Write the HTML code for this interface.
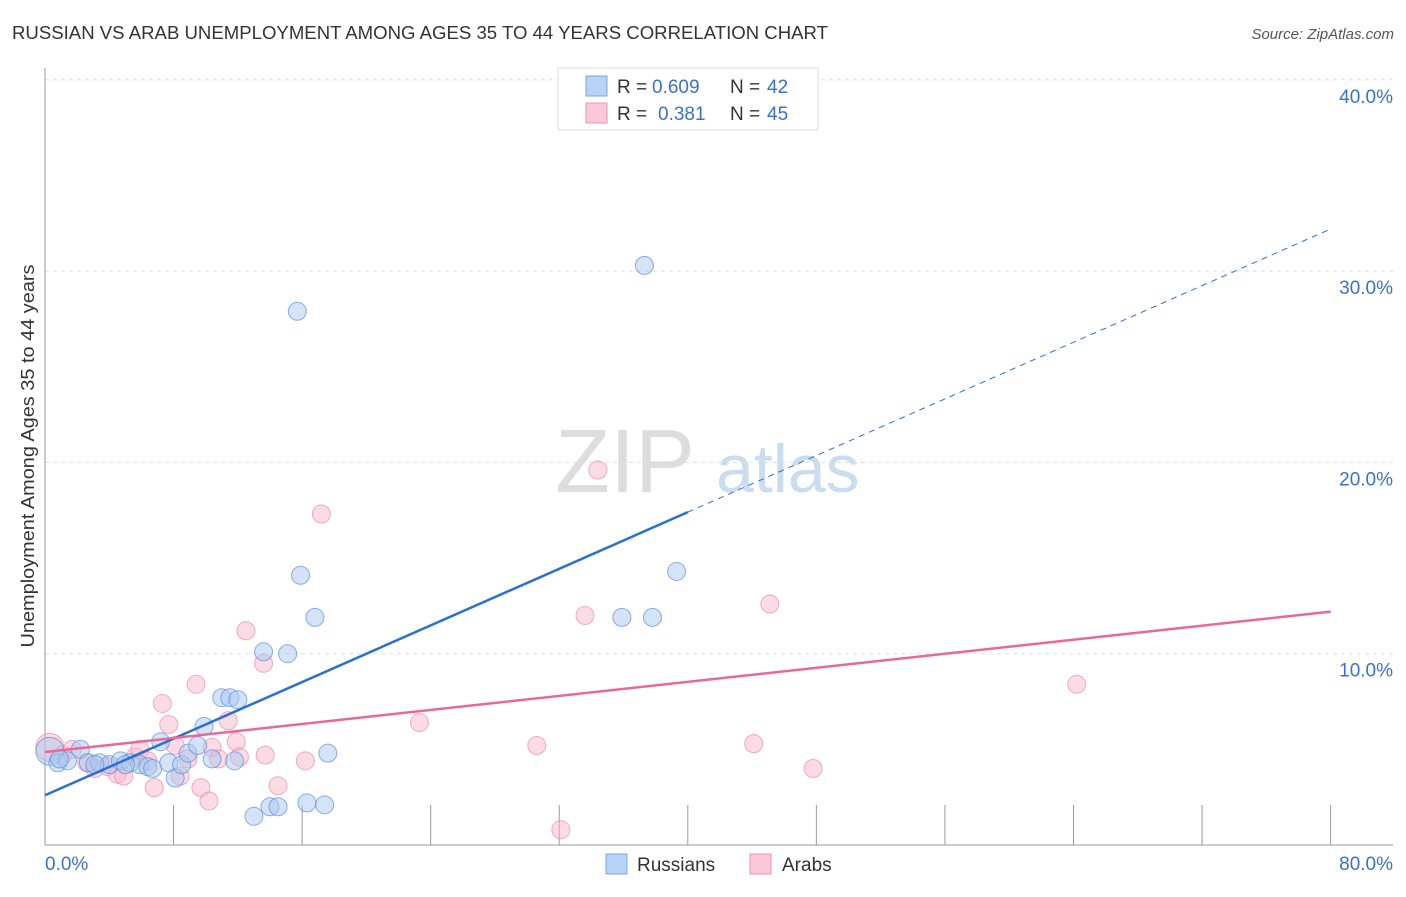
<!DOCTYPE html>
<html><head><meta charset="utf-8"><style>
body{margin:0;background:#fff;font-family:"Liberation Sans",sans-serif;}
svg text{font-family:"Liberation Sans",sans-serif;}
</style></head><body>
<svg id="c" width="1406" height="892" xmlns="http://www.w3.org/2000/svg">
<text x="12" y="39" font-size="18" fill="#333" textLength="816" lengthAdjust="spacingAndGlyphs">RUSSIAN VS ARAB UNEMPLOYMENT AMONG AGES 35 TO 44 YEARS CORRELATION CHART</text>
<text x="1394" y="39" font-size="15" fill="#555" font-style="italic" text-anchor="end">Source: ZipAtlas.com</text>
<text x="555" y="492" font-size="90" fill="#ddd" font-family="Liberation Serif">ZIP</text>
<text x="716" y="492" font-size="68" fill="#c9dcf0">atlas</text>
<text transform="translate(34,456) rotate(-90)" font-size="18" fill="#333" text-anchor="middle" textLength="383" lengthAdjust="spacingAndGlyphs">Unemployment Among Ages 35 to 44 years</text>
<g id="grid"></g><g id="marks"></g><g id="lines"></g>
<g>
<rect x="558" y="68" width="260" height="62" fill="#fff" stroke="#ddd"/>
<rect x="586" y="76" width="21" height="20" fill="#b8d2f5" stroke="#7aa7e0"/>
<rect x="586" y="103" width="21" height="20" fill="#fbc8d8" stroke="#eb93b0"/>
<text x="617" y="93" font-size="19" fill="#333">R =</text>
<text x="652" y="93" font-size="19" fill="#3a6fd8">0.609</text>
<text x="730" y="93" font-size="19" fill="#333">N =</text>
<text x="767" y="93" font-size="19" fill="#3a6fd8">42</text>
<text x="617" y="120" font-size="19" fill="#333">R =</text>
<text x="658" y="120" font-size="19" fill="#3a6fd8">0.381</text>
<text x="730" y="120" font-size="19" fill="#333">N =</text>
<text x="767" y="120" font-size="19" fill="#3a6fd8">45</text>
</g>
<g>
<rect x="606" y="854" width="21" height="20" fill="#b8d2f5" stroke="#7aa7e0"/>
<text x="637" y="871" font-size="19" fill="#333">Russians</text>
<rect x="750" y="854" width="21" height="20" fill="#fbc8d8" stroke="#eb93b0"/>
<text x="782" y="871" font-size="19" fill="#333">Arabs</text>
</g>
</svg>
<script>
const yTicks=[10,20,30,40];
const yTickLabels=["10.0%","20.0%","30.0%","40.0%"];
const xTicks=[0,8,16,24,32,40,48,56,64,72,80];
const rusX=[0.3,0.8,1.4,2.2,2.7,3.4,4.0,4.7,5.3,5.9,6.4,6.7,7.2,7.7,8.1,8.5,8.9,9.5,9.9,10.4,11.0,11.5,12.0,11.8,13.0,13.6,14.0,14.5,15.1,15.7,15.9,16.3,16.8,17.4,17.6,35.9,37.3,37.8,39.3,3.1,5.0,0.9];
const rusY=[4.9,4.3,4.4,5.0,4.3,4.3,4.2,4.4,4.3,4.2,4.1,4.0,5.4,4.3,3.5,4.2,4.8,5.2,6.2,4.5,7.7,7.7,7.6,4.4,1.5,10.1,2.0,2.0,10.0,27.9,14.1,2.2,11.9,2.1,4.8,11.9,30.3,11.9,14.3,4.2,4.2,4.5];
const arbX=[0.3,1.1,1.7,2.6,3.1,3.9,4.5,4.9,5.6,5.9,6.4,6.8,7.3,7.7,8.1,8.4,8.9,9.4,9.7,10.2,10.4,10.8,11.4,11.9,12.1,12.5,13.6,13.7,14.5,16.2,17.2,23.3,30.6,32.1,33.6,34.4,44.1,45.1,47.8,64.2];
const arbY=[5.1,4.7,5.0,4.3,4.0,4.1,3.7,3.6,4.6,5.0,4.4,3.0,7.4,6.3,5.2,3.6,4.5,8.4,3.0,2.3,5.1,4.5,6.5,5.4,4.6,11.2,9.5,4.7,3.1,4.4,17.3,6.4,5.2,0.8,12.0,19.6,5.3,12.6,4.0,8.4];
const rusTrend=[2.6,32.2];
const arbTrend=[4.86,12.2];
const NS="http://www.w3.org/2000/svg";
const X=v=>45+v*16.07, Y=v=>845-v*19.13;
function mk(t,a,p){const e=document.createElementNS(NS,t);for(const k in a)e.setAttribute(k,a[k]);document.getElementById(p).appendChild(e);return e;}
yTicks.forEach((t,i)=>{
 const g=mk('line',{x1:45,x2:1393,y1:Y(t),y2:Y(t),stroke:'#ddd','stroke-dasharray':'4,4'},'grid');
 
 
 const l=mk('text',{x:1393,y:Y(t)+23,'font-size':19,fill:'#3a6fd8','text-anchor':'end'},'grid');l.textContent=yTickLabels[i];
 
 
});
let ax=mk('line',{x1:45,x2:45,y1:68,y2:845,stroke:'#999'},'grid');


ax=mk('line',{x1:45,x2:1393,y1:845,y2:845,stroke:'#999'},'grid');


xTicks.slice(1).forEach(t=>{const e=mk('line',{x1:X(t),x2:X(t),y1:805,y2:845,stroke:'#999'},'grid');
 
 });
let t0=mk('text',{x:45,y:870,'font-size':19,fill:'#3a6fd8'},'grid');t0.textContent='0.0%';


t0=mk('text',{x:1393,y:870,'font-size':19,fill:'#3a6fd8','text-anchor':'end'},'grid');t0.textContent='80.0%';


function pts(xs,ys,fill,stroke,name){xs.forEach((x,i)=>{const c=mk('circle',{cx:X(x),cy:Y(ys[i]),r:i==0?14:9,fill:fill,'fill-opacity':0.5,stroke:stroke,'stroke-opacity':0.7},'marks');
 
 });}
pts(arbX,arbY,'#f9b8cc','#e98aab','arab-point');
pts(rusX,rusY,'#a9c8f0','#5b8fd8','russian-point');
const rAt=x=>rusTrend[0]+(rusTrend[1]-rusTrend[0])*x/80;
let ln=mk('line',{x1:X(0),y1:Y(rAt(0)),x2:X(40),y2:Y(rAt(40)),stroke:'#2a6fd6','stroke-width':2.5},'lines');


ln=mk('line',{x1:X(40),y1:Y(rAt(40)),x2:X(80),y2:Y(rAt(80)),stroke:'#2a6fd6','stroke-width':1,'stroke-dasharray':'6,5'},'lines');


ln=mk('line',{x1:X(0),y1:Y(arbTrend[0]),x2:X(80),y2:Y(arbTrend[1]),stroke:'#e8689a','stroke-width':2.5},'lines');


</script>
</body></html>
